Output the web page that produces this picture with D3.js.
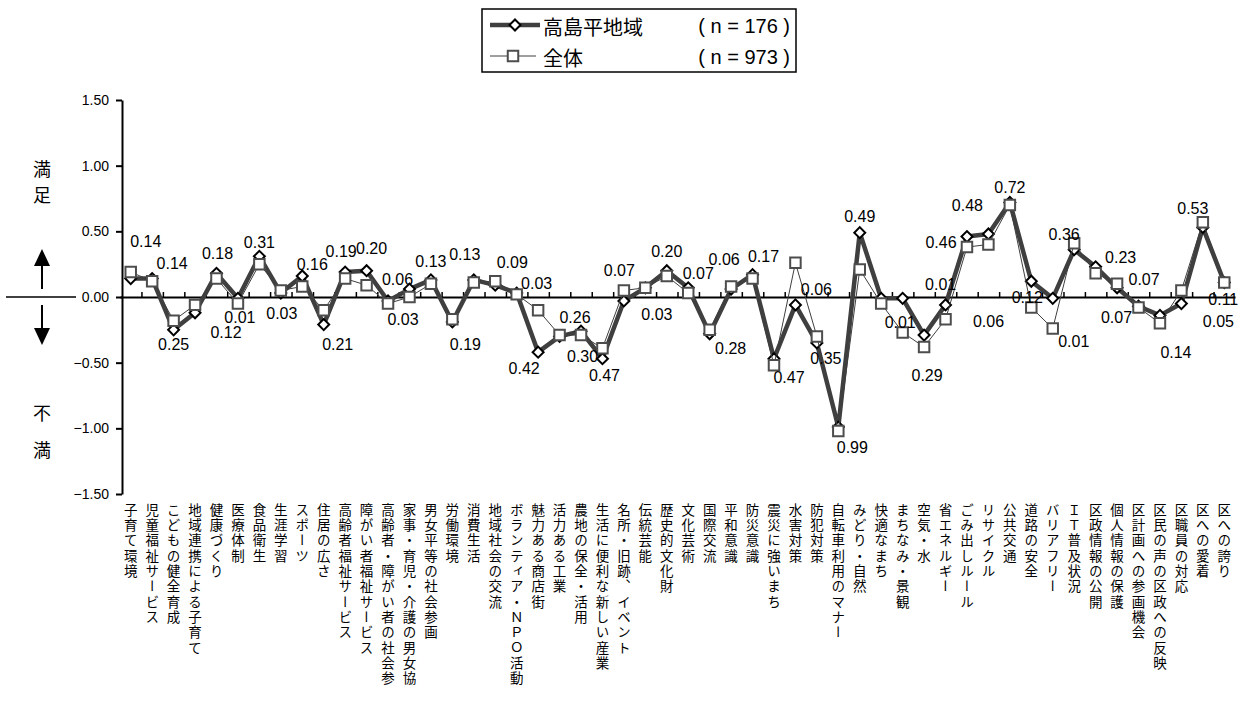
<!DOCTYPE html>
<html><head><meta charset="utf-8">
<script src="https://cdn.jsdelivr.net/npm/d3@7"></script>
<style>
body{margin:0;background:#fff;}
svg{display:block;}
.vt{writing-mode:vertical-rl;text-orientation:mixed;}
</style></head>
<body>
<svg id="chart" width="1240" height="701"></svg>
<script>
const categories = ["子育て環境","児童福祉サービス","こどもの健全育成","地域連携による子育て","健康づくり","医療体制","食品衛生","生涯学習","スポーツ","住居の広さ","高齢者福祉サービス","障がい者福祉サービス","高齢者・障がい者の社会参","家事・育児・介護の男女協","男女平等の社会参画","労働環境","消費生活","地域社会の交流","ボランティア・ＮＰＯ活動","魅力ある商店街","活力ある工業","農地の保全・活用","生活に便利な新しい産業","名所・旧跡、イベント","伝統芸能","歴史的文化財","文化芸術","国際交流","平和意識","防災意識","震災に強いまち","水害対策","防犯対策","自転車利用のマナー","みどり・自然","快適なまち","まちなみ・景観","空気・水","省エネルギー","ごみ出しルール","リサイクル","公共交通","道路の安全","バリアフリー","ＩＴ普及状況","区政情報の公開","個人情報の保護","区計画への参画機会","区民の声の区政への反映","区職員の対応","区への愛着","区への誇り"];
const takashima = [0.14,0.14,-0.25,-0.12,0.18,-0.01,0.31,0.03,0.16,-0.21,0.19,0.20,-0.03,0.06,0.13,-0.19,0.13,0.09,0.03,-0.42,-0.30,-0.26,-0.47,-0.03,0.07,0.20,0.07,-0.28,0.06,0.17,-0.47,-0.06,-0.35,-0.99,0.49,-0.01,-0.01,-0.29,-0.06,0.46,0.48,0.72,0.12,-0.01,0.36,0.23,0.07,-0.07,-0.14,-0.05,0.53,0.11];
const zentai = [0.19,0.12,-0.18,-0.06,0.14,-0.05,0.25,0.05,0.08,-0.10,0.14,0.09,-0.05,0.00,0.10,-0.17,0.11,0.12,0.02,-0.10,-0.29,-0.29,-0.39,0.05,0.07,0.16,0.03,-0.25,0.08,0.14,-0.52,0.26,-0.30,-1.02,0.21,-0.05,-0.27,-0.38,-0.17,0.38,0.40,0.70,-0.08,-0.24,0.41,0.18,0.10,-0.08,-0.20,0.05,0.57,0.11];
const yTicks = [1.5,1.0,0.5,0.0,-0.5,-1.0,-1.5];
const seriesNames = ["高島平地域","全体"];
const seriesN = ["( n = 176 )","( n = 973 )"];
// label placement offsets (styling only)
const labelOffsets = [[15,-37],[20,-15],[0,15],[31,20],[1,-20],[2,19],[0,-14],[1,20],[10,-11],[14,20],[-4,-21],[5,-22],[15,19],[-12,-10],[0,-18],[13,23],[-9,-25],[17,-23],[20,-10],[-14,16],[23,20],[-6,-14],[2,17],[33,14],[-26,-17],[0,-19],[10,-14],[21,15],[-7,-30],[11,-18],[15,19],[21,-15],[9,16],[14,20],[0,-16],[19,24],[38,-14],[3,40],[43,17],[-26,6],[-21,-28],[0,-15],[-4,16],[21,43],[-10,-15],[25,-9],[27,-8],[-22,11],[16,37],[37,18],[-10,-19],[-1,17]];

const svg = d3.select("#chart");
const NUM = "'Liberation Sans', Arial, sans-serif";
const JP = "'Noto Sans CJK JP', sans-serif";
const x = d3.scaleBand().domain(categories).range([120, 1235]);
const y = d3.scaleLinear().domain([-1.5, 1.5]).range([494, 100]);
const cx = c => x(c) + x.bandwidth()/2;

// y axis
const yAxis = svg.append("g").attr("transform","translate(122,0)")
  .call(d3.axisLeft(y).tickValues(yTicks).tickFormat(d3.format(".2f")).tickSize(6).tickSizeOuter(0));
yAxis.select(".domain").attr("stroke","#000").attr("stroke-width",2);
yAxis.selectAll(".tick line").attr("stroke","#000").attr("stroke-width",2);
yAxis.selectAll(".tick text").attr("font-family",NUM).attr("font-size",14).attr("fill","#000").attr("x",-13);

// x axis at zero
const xAxis = svg.append("g").attr("transform",`translate(0,${y(0)})`)
  .call(d3.axisTop(d3.scaleLinear().domain([0,categories.length]).range([120,1235]))
    .tickValues(d3.range(1,categories.length)).tickSize(5).tickSizeOuter(0).tickFormat(""));
xAxis.select(".domain").attr("stroke","#000").attr("stroke-width",2);
xAxis.selectAll(".tick line").attr("stroke","#000").attr("stroke-width",1.5);

// category labels (vertical)
svg.append("g").attr("font-family",JP).attr("font-size",13.5).attr("fill","#000")
  .selectAll("text").data(categories).join("text")
  .attr("class","vt")
  .attr("x", d => cx(d)).attr("y", 503)
  .attr("letter-spacing", 1.8)
  .text(d => d);

// series A line (thick)
const lineA = d3.line().x((d,i)=>cx(categories[i])).y(d=>y(d));
svg.append("path").datum(takashima).attr("d",lineA).attr("fill","none")
  .attr("stroke","#3f3f3f").attr("stroke-width",4.5).attr("stroke-linejoin","round");
const diamond = d3.symbol().type(d3.symbolSquare).size(60);
svg.append("g").selectAll("path").data(takashima).join("path")
  .attr("d", diamond)
  .attr("transform",(d,i)=>`translate(${cx(categories[i])},${y(d)}) rotate(45)`)
  .attr("fill","#fff").attr("stroke","#000").attr("stroke-width",2);

// series B line (thin)
svg.append("path").datum(zentai).attr("d",lineA).attr("fill","none")
  .attr("stroke","#3f3f3f").attr("stroke-width",1);
const square = d3.symbol().type(d3.symbolSquare).size(110);
svg.append("g").selectAll("path").data(zentai).join("path")
  .attr("d", square)
  .attr("transform",(d,i)=>`translate(${cx(categories[i])},${y(d)})`)
  .attr("fill","#fff").attr("stroke","#4d4d4d").attr("stroke-width",2);

// data labels for series A
svg.append("g").attr("font-family",NUM).attr("font-size",16).attr("fill","#000")
  .selectAll("text").data(takashima).join("text")
  .attr("x",(d,i)=>cx(categories[i]) + labelOffsets[i][0])
  .attr("y",(d,i)=>y(d) + labelOffsets[i][1])
  .attr("text-anchor","middle").attr("dominant-baseline","central")
  .text(d=>Math.abs(d).toFixed(2));

// legend
const lg = svg.append("g");
lg.append("rect").attr("x",482).attr("y",9).attr("width",314).attr("height",63)
  .attr("fill","#fff").attr("stroke","#000").attr("stroke-width",1.5);
lg.append("line").attr("x1",490).attr("x2",540).attr("y1",25).attr("y2",25).attr("stroke","#3f3f3f").attr("stroke-width",4.5);
lg.append("path").attr("d",diamond).attr("transform","translate(515,25) rotate(45)").attr("fill","#fff").attr("stroke","#000").attr("stroke-width",2);
lg.append("line").attr("x1",490).attr("x2",536).attr("y1",56).attr("y2",56).attr("stroke","#3f3f3f").attr("stroke-width",1);
lg.append("path").attr("d",square).attr("transform","translate(513,56)").attr("fill","#fff").attr("stroke","#4d4d4d").attr("stroke-width",2);
lg.append("text").attr("x",543).attr("y",26).attr("dominant-baseline","central").attr("font-family",JP).attr("font-size",20).text(seriesNames[0]);
lg.append("text").attr("x",790).attr("y",26).attr("dominant-baseline","central").attr("text-anchor","end").attr("font-family",NUM).attr("font-size",20).text(seriesN[0]);
lg.append("text").attr("x",543).attr("y",57).attr("dominant-baseline","central").attr("font-family",JP).attr("font-size",20).text(seriesNames[1]);
lg.append("text").attr("x",790).attr("y",57).attr("dominant-baseline","central").attr("text-anchor","end").attr("font-family",NUM).attr("font-size",20).text(seriesN[1]);

// left annotation
const ann = svg.append("g").attr("font-family",JP).attr("font-size",18).attr("text-anchor","middle").attr("dominant-baseline","central");
ann.append("text").attr("x",42).attr("y",168).text("満");
ann.append("text").attr("x",42).attr("y",194).text("足");
ann.append("text").attr("x",42).attr("y",412).text("不");
ann.append("text").attr("x",42).attr("y",449).text("満");
svg.append("line").attr("x1",6).attr("x2",76).attr("y1",y(0)).attr("y2",y(0)).attr("stroke","#000").attr("stroke-width",1.5);
svg.append("line").attr("x1",42).attr("x2",42).attr("y1",262).attr("y2",289).attr("stroke","#000").attr("stroke-width",2);
svg.append("path").attr("d","M34,266 L42,249 L50,266 Z").attr("fill","#000");
svg.append("line").attr("x1",42).attr("x2",42).attr("y1",305).attr("y2",332).attr("stroke","#000").attr("stroke-width",2);
svg.append("path").attr("d","M34,328 L42,345 L50,328 Z").attr("fill","#000");
</script>
</body></html>
